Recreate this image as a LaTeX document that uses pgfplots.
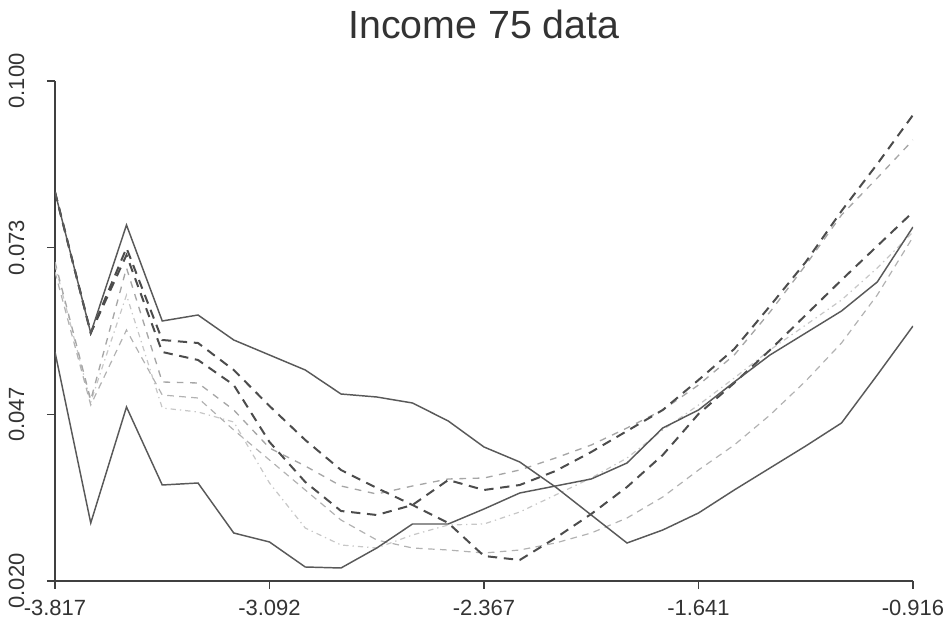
\documentclass[border=0pt]{standalone}
\usepackage{pgfplots}
\pgfplotsset{compat=1.18}
\usepackage{pgfplotstable}
\usepackage{fontspec}
\setmainfont{Liberation Sans}

\pgfplotstableread{
x A B P Q R S T
-3.817    0.08224 0.05664 0.08224 0.08224 0.07104 0.06944 0.07056
-3.696125 0.05968 0.02928 0.05968 0.05968 0.04896 0.04816 0.04864
-3.57525  0.07696 0.04784 0.07328 0.07216 0.07008 0.06016 0.06576
-3.454375 0.0616  0.03536 0.05856 0.05664 0.05184 0.04976 0.04768
-3.3335   0.06256 0.03568 0.05808 0.05536 0.05168 0.04928 0.04704
-3.212625 0.05856 0.02768 0.05376 0.05136 0.04736 0.04416 0.04544
-3.09175  0.05616 0.02624 0.048   0.04224 0.04128 0.03936 0.03568
-2.970875 0.05376 0.02224 0.04256 0.03584 0.0384  0.03456 0.02848
-2.85     0.04992 0.02208 0.03776 0.0312  0.0352  0.02976 0.02576
-2.729125 0.04944 0.02528 0.03488 0.03056 0.03392 0.02656 0.02528
-2.60825  0.04848 0.02912 0.03216 0.03216 0.0352  0.02528 0.02736
-2.487375 0.0456  0.02912 0.02928 0.03616 0.03632 0.02496 0.02896
-2.3665   0.04144 0.03152 0.024   0.03456 0.03648 0.02448 0.02912
-2.245625 0.03904 0.03408 0.02336 0.03536 0.03776 0.02496 0.03104
-2.12475  0.03504 0.0352  0.02688 0.0376  0.03968 0.02608 0.03376
-2.003875 0.03056 0.03632 0.03072 0.04064 0.04176 0.02768 0.03648
-1.883    0.02608 0.03888 0.03504 0.044   0.04448 0.03008 0.03968
-1.762125 0.02816 0.04448 0.04016 0.04736 0.04736 0.03344 0.04416
-1.64125  0.03088 0.04736 0.04672 0.05216 0.05136 0.03776 0.04816
-1.520375 0.03456 0.05184 0.05168 0.05712 0.05616 0.04176 0.05248
-1.3995   0.03808 0.05616 0.05696 0.064   0.06304 0.04656 0.05696
-1.278625 0.0416  0.05968 0.06256 0.07104 0.07056 0.052   0.06096
-1.15775  0.04528 0.0632  0.06816 0.0792  0.07856 0.05808 0.06496
-1.036875 0.05296 0.06784 0.0736  0.08672 0.08448 0.06576 0.07008
-0.916    0.0608  0.07664 0.07904 0.09456 0.09056 0.07504 0.07584
}\data

\begin{document}
\begin{tikzpicture}
\useasboundingbox (-41.25pt,-32.25pt) rectangle (670.5pt,435.75pt);
\begin{axis}[
  at={(0pt,0pt)}, anchor=south west,
  scale only axis, width=643.5pt, height=375pt,
  xmin=-3.817, xmax=-0.916, ymin=0.02, ymax=0.1,
  axis x line*=bottom, axis y line*=left,
  axis line style={draw=black!75, line width=1.1pt},
  tick align=outside, major tick length=6pt,
  tick style={draw=black!75, line width=1.1pt},
  xtick={-3.817,-3.09175,-2.3665,-1.64125,-0.916},
  xticklabels={-3.817,-3.092,-2.367,-1.641,-0.916},
  ytick={0.02,0.0466667,0.0733333,0.1},
  yticklabels={0.020,0.047,0.073,0.100},
  ticklabel style={font=\fontsize{16.5}{19}\selectfont, text=black!80},
  xticklabel style={yshift=-5pt},
  yticklabel style={rotate=90, anchor=south, yshift=13.5pt},
  title={Income 75 data},
  title style={font=\fontsize{29.5}{34}\selectfont, text=black!80, at={(0.5,1)}, anchor=base, yshift=26pt},
]
\addplot[draw=black!22, line width=0.9pt, dash pattern=on 4pt off 3pt on 1pt off 3pt] table[x=x,y=T] {\data};
\addplot[draw=black!30, line width=0.9pt, dash pattern=on 5pt off 4pt] table[x=x,y=S] {\data};
\addplot[draw=black!35, line width=1pt, dash pattern=on 5pt off 5pt] table[x=x,y=R] {\data};
\addplot[draw=black!70, line width=1.5pt, dash pattern=on 7pt off 5pt] table[x=x,y=P] {\data};
\addplot[draw=black!70, line width=1.5pt, dash pattern=on 7pt off 5pt] table[x=x,y=Q] {\data};
\addplot[draw=black!65, line width=1.1pt] table[x=x,y=A] {\data};
\addplot[draw=black!65, line width=1.1pt] table[x=x,y=B] {\data};
\end{axis}
\end{tikzpicture}
\end{document}
